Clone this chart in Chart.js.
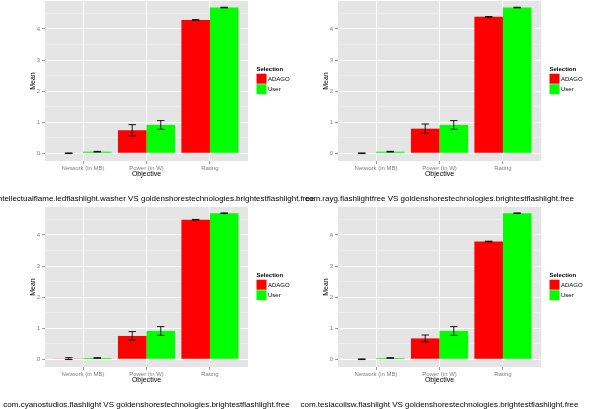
<!DOCTYPE html>
<html>
<head>
<meta charset="utf-8">
<script src="https://cdn.jsdelivr.net/npm/chart.js@4"></script>
<style>
    body { margin: 0; background: #fff; }
    #wrap { position: relative; width: 591px; height: 409px; overflow: hidden; }
    canvas { position: absolute; }
    .caption {
        position: absolute; width: 600px; text-align: center; white-space: nowrap;
        font: 8px 'Liberation Sans', Arial, Helvetica, sans-serif; line-height: 10px; color: #000;
    }
</style>
</head>
<body>
<div id="wrap"></div>
<script>
// Categories and labels
const categories = ['Network (in MB)', 'Power (in W)', 'Rating'];
const categoryPos = [1, 2, 3];
const seriesNames = ['ADAGO', 'User'];
const seriesColors = ['#FF0000', '#00FF00'];
const yMajorTicks = [0, 1, 2, 3, 4];
const yMinorTicks = [0.5, 1.5, 2.5, 3.5, 4.5];

const panelTitles = [
    'com.intellectualflame.ledflashlight.washer VS goldenshorestechnologies.brightestflashlight.free',
    'com.rayg.flashlightfree VS goldenshorestechnologies.brightestflashlight.free',
    'com.cyanostudios.flashlight VS goldenshorestechnologies.brightestflashlight.free',
    'com.teslacoilsw.flashlight VS goldenshorestechnologies.brightestflashlight.free'
];

// Mean values and error (half-width) per panel
const adagoMeans  = [[0.00, 0.74, 4.29], [0.00, 0.79, 4.39], [0.02, 0.75, 4.49], [0.00, 0.67, 3.79]];
const adagoErrors = [[0.01, 0.18, 0.01], [0.01, 0.15, 0.01], [0.03, 0.14, 0.01], [0.01, 0.11, 0.01]];
const userMeans   = [[0.05, 0.91, 4.69], [0.05, 0.91, 4.69], [0.04, 0.91, 4.70], [0.04, 0.91, 4.70]];
const userErrors  = [[0.01, 0.14, 0.01], [0.01, 0.14, 0.01], [0.01, 0.14, 0.01], [0.01, 0.14, 0.01]];

const FONT = "'Liberation Sans', Arial, Helvetica, sans-serif";
const PANEL_W = 293, PANEL_H = 206;

// grey panel background
const panelBg = {
    id: 'panelBg',
    beforeDraw(chart) {
        const { ctx, chartArea: a } = chart;
        ctx.save();
        ctx.fillStyle = '#E5E5E5';
        ctx.fillRect(a.left, a.top, a.right - a.left, a.bottom - a.top);
        ctx.restore();
    }
};

// error bars on top of bars
const errorBars = {
    id: 'errorBars',
    afterDatasetsDraw(chart) {
        const ctx = chart.ctx;
        const yScale = chart.scales.y;
        ctx.save();
        ctx.strokeStyle = '#000';
        ctx.lineWidth = 0.9;
        chart.data.datasets.forEach((ds, i) => {
            chart.getDatasetMeta(i).data.forEach((bar, j) => {
                const v = ds.data[j].y, e = ds.errors[j];
                const top = yScale.getPixelForValue(v + e);
                const bot = yScale.getPixelForValue(v - e);
                const half = bar.width * 0.13;
                ctx.beginPath();
                ctx.moveTo(bar.x - half, top); ctx.lineTo(bar.x + half, top);
                ctx.moveTo(bar.x - half, bot); ctx.lineTo(bar.x + half, bot);
                ctx.moveTo(bar.x, top); ctx.lineTo(bar.x, bot);
                ctx.stroke();
            });
        });
        ctx.restore();
    }
};

// ggplot-like legend on the right
const ggLegend = {
    id: 'ggLegend',
    afterDraw(chart) {
        const { ctx, chartArea: a } = chart;
        const x = a.right + 8.5;
        ctx.save();
        ctx.textBaseline = 'middle';
        ctx.fillStyle = '#000';
        ctx.font = 'bold 6px ' + FONT;
        ctx.fillText('Selection', x, 69);
        ctx.font = '6px ' + FONT;
        chart.data.datasets.forEach((ds, i) => {
            const ky = 73.7 + i * 10.5;
            ctx.fillStyle = ds.backgroundColor;
            ctx.fillRect(x, ky, 10, 10);
            ctx.fillStyle = '#000';
            ctx.fillText(ds.label, x + 11.5, ky + 5.3);
        });
        ctx.restore();
    }
};

function makeDataset(idx, means, errors) {
    return {
        label: seriesNames[idx],
        data: categoryPos.map((p, j) => ({ x: p, y: means[j] })),
        errors: errors,
        backgroundColor: seriesColors[idx],
        borderWidth: 0,
        categoryPercentage: 0.9,
        barPercentage: 1.0
    };
}

const wrap = document.getElementById('wrap');

panelTitles.forEach((title, p) => {
    const col = p % 2, row = Math.floor(p / 2);
    const canvas = document.createElement('canvas');
    canvas.width = PANEL_W; canvas.height = PANEL_H;
    canvas.style.left = (col * PANEL_W) + 'px';
    canvas.style.top = (row * PANEL_H) + 'px';
    wrap.appendChild(canvas);

    const cap = document.createElement('div');
    cap.className = 'caption';
    cap.textContent = title;
    cap.style.left = (col * PANEL_W + 146.5 - 300) + 'px';
    cap.style.top = (row * PANEL_H + 194) + 'px';
    wrap.appendChild(cap);

    new Chart(canvas, {
        type: 'bar',
        data: {
            datasets: [
                makeDataset(0, adagoMeans[p], adagoErrors[p]),
                makeDataset(1, userMeans[p], userErrors[p])
            ]
        },
        options: {
            responsive: false,
            animation: false,
            devicePixelRatio: 1,
            layout: { padding: { top: 1, right: 45, bottom: 0, left: 0 } },
            plugins: { legend: { display: false }, tooltip: { enabled: false } },
            scales: {
                x: {
                    type: 'linear',
                    min: 0.4, max: 3.6,
                    offset: false,
                    afterBuildTicks: (s) => { s.ticks = categoryPos.map(v => ({ value: v })); },
                    afterFit: (s) => { s.height = 45; s.paddingLeft = 0; s.paddingRight = 0; },
                    grid: { offset: false, color: '#FFFFFF', lineWidth: 1, tickLength: 3, tickColor: '#7F7F7F', tickWidth: 0.8 },
                    border: { display: false },
                    ticks: {
                        autoSkip: false, maxRotation: 0, padding: 1,
                        color: '#7F7F7F', font: { family: FONT, size: 6 },
                        callback: (v) => categories[categoryPos.indexOf(v)]
                    },
                    title: {
                        display: true, text: 'Objective', color: '#000',
                        font: { family: FONT, size: 7 }, padding: { top: 0, bottom: 28 }
                    }
                },
                y: {
                    type: 'linear',
                    min: -0.25, max: 4.9,
                    afterBuildTicks: (s) => {
                        s.ticks = yMajorTicks.concat(yMinorTicks).sort((a, b) => a - b).map(v => ({ value: v }));
                    },
                    afterFit: (s) => { s.width = 45; s.paddingTop = 0; s.paddingBottom = 0; },
                    grid: {
                        color: (c) => yMajorTicks.includes(c.tick.value) ? '#FFFFFF' : '#F2F2F2',
                        lineWidth: (c) => yMajorTicks.includes(c.tick.value) ? 1 : 0.6,
                        tickLength: 3,
                        tickColor: (c) => yMajorTicks.includes(c.tick.value) ? '#7F7F7F' : 'rgba(0,0,0,0)',
                        tickWidth: 0.8
                    },
                    border: { display: false },
                    ticks: {
                        padding: 2, color: '#7F7F7F', font: { family: FONT, size: 6 },
                        callback: (v) => yMajorTicks.includes(v) ? String(v) : ''
                    },
                    title: {
                        display: true, text: 'Mean', color: '#000',
                        font: { family: FONT, size: 7 }, padding: { top: 29, bottom: 0 }
                    }
                }
            }
        },
        plugins: [panelBg, errorBars, ggLegend]
    });
});
</script>
</body>
</html>
